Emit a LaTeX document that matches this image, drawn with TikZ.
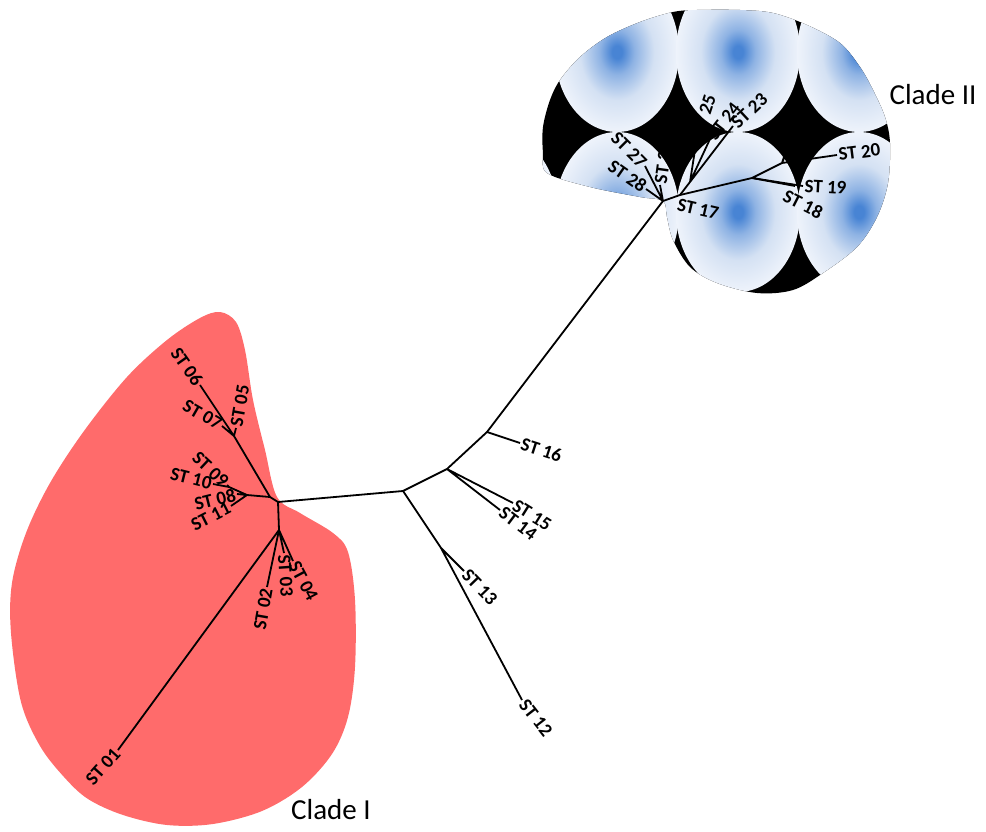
\documentclass[tikz,border=0pt]{standalone}
\usepackage{fontspec}
\setmainfont{Carlito}

\definecolor{cladered}{RGB}{255,107,107}
\definecolor{tileblue}{RGB}{72,132,212}
\definecolor{tilepale}{RGB}{212,225,243}
\definecolor{tileedge}{RGB}{238,243,251}
\pgfdeclareradialshading{tileglow}{\pgfpoint{0bp}{0bp}}{color(0bp)=(tileblue); color(2bp)=(tileblue); color(7bp)=(tileblue!50!tilepale); color(15bp)=(tilepale); color(25bp)=(tileedge); color(50bp)=(tileedge)}

\tikzset{
  branch/.style={line width=1.8pt, line join=round},
  stlab/.style={font=\bfseries\fontsize{19}{19}\selectfont, inner sep=1.5pt},
  cladelab/.style={font=\fontsize{29}{29}\selectfont, inner sep=0pt}
}

\begin{document}
\begin{tikzpicture}[x=1pt,y=-1pt]

\useasboundingbox (0,0) rectangle (986,832);

\fill[cladered] plot[smooth cycle, tension=0.55] coordinates {
  (220,312) (236,322) (245,350) (253,400) (265,450) (277,497) (300,513)
  (333,533) (348,552) (355,600) (355,667) (348,717) (332,754) (302,787)
  (262,811) (213,824) (167,825) (123,815) (88,799) (64,777) (40,746)
  (21,702) (11,633) (12,583) (26,533) (50,483) (84,431) (127,377)
  (167,340) (200,318)};

\begin{scope}
  \clip plot[smooth cycle, tension=0.55] coordinates {
    (547,173) (590,187) (640,197) (663,201) (667,217) (673,240) (690,267)
    (717,283) (757,293) (793,290) (823,273) (857,247) (877,217) (888,183)
    (890,143) (885,117) (873,90) (860,67) (840,43) (807,25) (773,13)
    (740,10) (697,10) (673,12) (640,22) (607,37) (580,57) (560,80)
    (550,100) (543,127) (543,153)};
  \fill[black] (500,-20) rectangle (950,320);
  \foreach \cx in {496,617,738,859}
    \foreach \cy in {52,212}
      \shade[shading=tileglow] (\cx,\cy) ellipse [x radius=62pt, y radius=80pt];
\end{scope}

\coordinate (r1) at (278,502);
\coordinate (d1) at (270,497);
\coordinate (a1) at (247,495);
\coordinate (e1) at (234,436);
\coordinate (j1) at (229,487);
\coordinate (b1) at (279,530);
\coordinate (c0) at (403,491);
\coordinate (n1) at (447,469);
\coordinate (n2) at (487,432);
\coordinate (b13) at (441,548);
\coordinate (n3) at (663,201);
\coordinate (j2) at (680,195);
\coordinate (k2) at (690,182);
\coordinate (f2) at (752,178);
\coordinate (g2) at (782,163);

\coordinate (st01) at (118,750);
\coordinate (st02) at (267,587);
\coordinate (st03) at (284,553);
\coordinate (st04) at (293,561);
\coordinate (st05) at (236,428);
\coordinate (st06) at (200,385);
\coordinate (st07) at (222,426);
\coordinate (st08) at (237,494);
\coordinate (st09) at (227,485);
\coordinate (st10) at (213,484);
\coordinate (st11) at (231,506);
\coordinate (st12) at (522,700);
\coordinate (st13) at (464,571);
\coordinate (st14) at (500,510);
\coordinate (st15) at (513,503);
\coordinate (st16) at (520,443);
\coordinate (st17) at (676,204);
\coordinate (st18) at (795,186);
\coordinate (st19) at (803,186);
\coordinate (st20) at (837,155);
\coordinate (st21) at (788,149);
\coordinate (st22) at (786,151);
\coordinate (st23) at (733,126);
\coordinate (st24) at (710,139);
\coordinate (st25) at (697,137);
\coordinate (st26) at (660,185);
\coordinate (st27) at (645,166);
\coordinate (st28) at (646,189);

\draw[branch] (st01) -- (b1) -- (r1) -- (c0) -- (n1) -- (n2) -- (n3) -- (j2) -- (f2) -- (st18);
\draw[branch] (b1) -- (st02) (b1) -- (st03) (b1) -- (st04);
\draw[branch] (r1) -- (d1) -- (e1) -- (st06) (e1) -- (st05) (e1) -- (st07);
\draw[branch] (d1) -- (a1) -- (j1) -- (st10) (j1) -- (st09) (a1) -- (st08) (a1) -- (st11);
\draw[branch] (c0) -- (b13) -- (st12) (b13) -- (st13);
\draw[branch] (n1) -- (st14) (n1) -- (st15) (n2) -- (st16);
\draw[branch] (f2) -- (st19) (f2) -- (g2) -- (st20) (g2) -- (st21) (g2) -- (st22);
\draw[branch] (j2) -- (st23) (k2) -- (st24) (k2) -- (st25);
\draw[branch] (n3) -- (st26) (n3) -- (st27) (n3) -- (st28);

\node[stlab, anchor=east, rotate=48] (l01) at (st01) {ST 01};
\node[stlab, anchor=east, rotate=80] (l02) at (st02) {ST 02};
\node[stlab, anchor=west, rotate=-86] (l03) at (st03) {ST 03};
\node[stlab, anchor=west, rotate=-62] (l04) at (st04) {ST 04};
\node[stlab, anchor=west, rotate=80] (l05) at (st05) {ST 05};
\node[stlab, anchor=east, rotate=-55] (l06) at (st06) {ST 06};
\node[stlab, anchor=east, rotate=-30] (l07) at (st07) {ST 07};
\node[stlab, anchor=east, rotate=14] (l08) at (st08) {ST 08};
\node[stlab, anchor=east, rotate=-43] (l09) at (st09) {ST 09};
\node[stlab, anchor=east, rotate=-14] (l10) at (st10) {ST 10};
\node[stlab, anchor=east, rotate=27] (l11) at (st11) {ST 11};
\node[stlab, anchor=west, rotate=-52] (l12) at (st12) {ST 12};
\node[stlab, anchor=west, rotate=-46] (l13) at (st13) {ST 13};
\node[stlab, anchor=west, rotate=-37] (l14) at (st14) {ST 14};
\node[stlab, anchor=west, rotate=-32] (l15) at (st15) {ST 15};
\node[stlab, anchor=west, rotate=-18] (l16) at (st16) {ST 16};
\node[stlab, anchor=west, rotate=-13] (l17) at (st17) {ST 17};
\node[stlab, anchor=west, rotate=-27] (l18) at (783,194) {ST 18};
\node[stlab, anchor=west, rotate=-3] (l19) at (st19) {ST 19};
\node[stlab, anchor=west, rotate=7] (l20) at (st20) {ST 20};
\node[stlab, anchor=west, rotate=60] (l21) at (st21) {ST 21};
\node[stlab, anchor=west, rotate=35] (l22) at (st22) {ST 22};
\node[stlab, anchor=west, rotate=43] (l23) at (st23) {ST 23};
\node[stlab, anchor=west, rotate=52] (l24) at (st24) {ST 24};
\node[stlab, anchor=west, rotate=72] (l25) at (st25) {ST 25};
\node[stlab, anchor=west, rotate=82] (l26) at (st26) {ST 26};
\node[stlab, anchor=east, rotate=-45] (l27) at (st27) {ST 27};
\node[stlab, anchor=east, rotate=-35] (l28) at (st28) {ST 28};

\node[cladelab] (cladeI) at (331,810) {Clade I};
\node[cladelab] (cladeII) at (933,95) {Clade II};

\end{tikzpicture}
\end{document}
